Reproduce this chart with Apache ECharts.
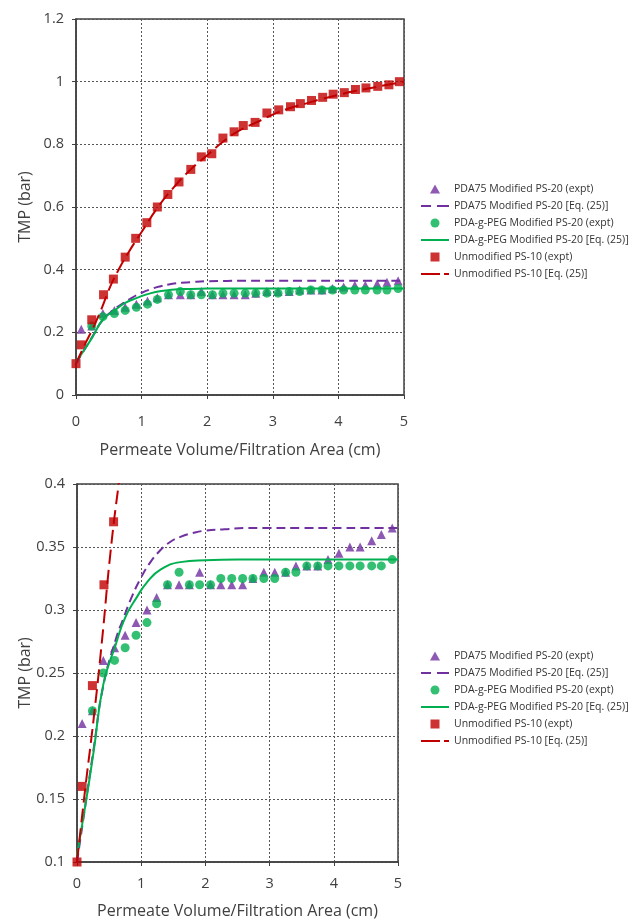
<!DOCTYPE html>
<html>
<head>
<meta charset="utf-8">
<script src="https://cdn.jsdelivr.net/npm/echarts@6/dist/echarts.min.js"></script>
<style>
html,body{margin:0;padding:0;background:#fff;}
#c{width:632px;height:924px;}
</style>
</head>
<body>
<div id="c"></div>
<script>
// ---- data ----
var names = [
  'PDA75 Modified PS-20 (expt)',
  'PDA75 Modified PS-20 [Eq. (25)]',
  'PDA-g-PEG Modified PS-20 (expt)',
  'PDA-g-PEG Modified PS-20 [Eq. (25)]',
  'Unmodified PS-10 (expt)',
  'Unmodified PS-10 [Eq. (25)]'
];
var pdaX = [0.08,0.24,0.41,0.585,0.75,0.92,1.09,1.24,1.41,1.59,1.75,1.91,2.08,2.24,2.41,2.58,2.74,2.91,3.08,3.25,3.41,3.58,3.75,3.91,4.08,4.25,4.41,4.59,4.74,4.91];
var pdaY = [0.21,0.22,0.26,0.27,0.28,0.29,0.30,0.31,0.32,0.32,0.32,0.33,0.32,0.32,0.32,0.32,0.325,0.33,0.33,0.33,0.335,0.335,0.335,0.34,0.345,0.35,0.35,0.355,0.36,0.365];
var pegX = [0.24,0.41,0.585,0.75,0.92,1.09,1.24,1.41,1.59,1.75,1.91,2.08,2.24,2.41,2.58,2.74,2.91,3.08,3.25,3.41,3.58,3.75,3.91,4.08,4.25,4.41,4.59,4.74,4.91];
var pegY = [0.22,0.25,0.26,0.27,0.28,0.29,0.305,0.32,0.33,0.32,0.32,0.32,0.325,0.325,0.325,0.325,0.325,0.325,0.33,0.33,0.335,0.335,0.335,0.335,0.335,0.335,0.335,0.335,0.34];
var unX = [0,0.08,0.24,0.42,0.57,0.75,0.91,1.08,1.24,1.40,1.57,1.75,1.91,2.07,2.24,2.41,2.55,2.73,2.91,3.09,3.27,3.42,3.59,3.76,3.92,4.09,4.26,4.42,4.60,4.77,4.93];
var unY = [0.10,0.16,0.24,0.32,0.37,0.44,0.50,0.55,0.60,0.64,0.68,0.72,0.76,0.77,0.82,0.84,0.86,0.87,0.90,0.91,0.92,0.93,0.94,0.95,0.96,0.965,0.975,0.98,0.985,0.99,1.0];
var pdaFitX = [0,0.13,0.26,0.41,0.6,0.72,0.85,0.98,1.13,1.29,1.45,1.61,1.8,2.0,2.3,2.6,3.0,3.5,4.0,4.5,5.0];
var pdaFitY = [0.1,0.145,0.19,0.24,0.276,0.293,0.31,0.324,0.337,0.347,0.354,0.358,0.361,0.363,0.364,0.365,0.365,0.365,0.365,0.365,0.365];
var pegFitX = [0,0.13,0.26,0.41,0.6,0.75,0.93,1.09,1.3,1.61,2.0,2.5,3.0,3.5,4.0,4.5,5.0];
var pegFitY = [0.105,0.145,0.188,0.241,0.272,0.294,0.31,0.322,0.332,0.338,0.3395,0.34,0.34,0.34,0.34,0.34,0.34];
var unFitX = [0,0.13,0.26,0.39,0.52,0.65,0.8,1.0,1.25,1.5,1.75,2.0,2.25,2.5,2.75,3.0,3.25,3.5,3.75,4.0,4.25,4.5,4.75,5.0];
var unFitY = [0.1,0.159,0.214,0.276,0.345,0.40,0.455,0.52,0.60,0.665,0.72,0.765,0.81,0.845,0.87,0.895,0.915,0.93,0.945,0.958,0.97,0.98,0.99,1.0];
var xTicks = {min:0, max:5, interval:1};
var yTopTicks = {min:0, max:1.2, interval:0.2};
var yBotTicks = {min:0.1, max:0.4, interval:0.05};
var xTitle = 'Permeate Volume/Filtration Area (cm)';
var yTitle = 'TMP (bar)';

function pairs(xs, ys){ return xs.map(function(x,i){return [x, ys[i]];}); }

var PURPLE = '#7030A0', GREEN = '#00B050', RED = '#C00000';
var FONT = 'Open Sans';
var AX = '#404040';

function xAxisCfg(gi, margin, gap){
  return {
    gridIndex: gi, type:'value', min:xTicks.min, max:xTicks.max, interval:xTicks.interval,
    name: xTitle, nameLocation:'middle', nameGap: gap, nameMoveOverlap:false,
    nameTextStyle:{fontFamily:FONT, fontSize:16, color:AX},
    axisLine:{show:true, onZero:false, lineStyle:{color:AX, width:1.5}},
    axisTick:{show:true, inside:false, length:4, lineStyle:{color:AX}},
    axisLabel:{fontFamily:FONT, fontSize:14.5, color:AX, margin:margin},
    splitLine:{show:true, lineStyle:{color:'#555', width:1, type:[2,2]}}
  };
}
function yAxisCfg(gi, t, gap){
  return {
    gridIndex: gi, type:'value', min:t.min, max:t.max, interval:t.interval,
    name: yTitle, nameLocation:'middle', nameGap: gap, nameRotate:90, nameMoveOverlap:false,
    nameTextStyle:{fontFamily:FONT, fontSize:16, color:AX},
    axisLine:{show:true, onZero:false, lineStyle:{color:AX, width:1.5}},
    axisTick:{show:true, inside:false, length:4, lineStyle:{color:AX}},
    axisLabel:{fontFamily:FONT, fontSize:14.5, color:AX, margin:12},
    splitLine:{show:true, lineStyle:{color:'#555', width:1, type:[2,2]}}
  };
}
function seriesFor(gi){
  return [
    {name:names[0], type:'scatter', xAxisIndex:gi, yAxisIndex:gi, symbol:'triangle', symbolSize:9, itemStyle:{color:PURPLE}, data:pairs(pdaX,pdaY)},
    {name:names[1], type:'line', xAxisIndex:gi, yAxisIndex:gi, symbol:'none', smooth:true, lineStyle:{color:PURPLE, width:2, type:[9,5]}, itemStyle:{color:PURPLE}, data:pairs(pdaFitX,pdaFitY)},
    {name:names[2], type:'scatter', xAxisIndex:gi, yAxisIndex:gi, symbol:'circle', symbolSize:9, itemStyle:{color:GREEN}, data:pairs(pegX,pegY)},
    {name:names[3], type:'line', xAxisIndex:gi, yAxisIndex:gi, symbol:'none', smooth:true, lineStyle:{color:GREEN, width:2}, itemStyle:{color:GREEN}, data:pairs(pegFitX,pegFitY)},
    {name:names[4], type:'scatter', xAxisIndex:gi, yAxisIndex:gi, symbol:'rect', symbolSize:9, itemStyle:{color:RED}, data:pairs(unX,unY)},
    {name:names[5], type:'line', xAxisIndex:gi, yAxisIndex:gi, symbol:'none', smooth:true, clip:true, lineStyle:{color:RED, width:2, type:[14,6]}, itemStyle:{color:RED}, data:pairs(unFitX,unFitY)}
  ];
}
var legendIcons = [
  'path://M5,0L10,9L0,9Z',
  'path://M0,0h10v2h-10z M16,0h12v2h-12z',
  'circle',
  'path://M0,0h28v2h-28z',
  'path://M0,0h9v9h-9z',
  'path://M0,0h19v2h-19z M23,0h5v2h-5z'
];
var legendColors = [PURPLE, PURPLE, GREEN, GREEN, RED, RED];
function legendCfg(top){
  return {
    data: names.map(function(n,i){
      return {name:n, icon:legendIcons[i], itemStyle:{color:legendColors[i], borderWidth:0}};
    }),
    orient:'vertical', left:416, top:top,
    itemWidth:28, itemHeight:9, itemGap:5, selectedMode:false,
    textStyle:{fontFamily:FONT, fontSize:10.5, color:'#333', lineHeight:12}
  };
}

var chart = echarts.init(document.getElementById('c'), null, {renderer:'canvas'});
chart.setOption({
  backgroundColor:'#fff',
  animation:false,
  grid:[
    {left:76, top:19, width:328, height:376, show:true, borderColor:AX, borderWidth:1.5, containLabel:false},
    {left:77, top:484, width:321, height:378, show:true, borderColor:AX, borderWidth:1.5, containLabel:false}
  ],
  xAxis:[xAxisCfg(0, 19, 47), xAxisCfg(1, 14, 41)],
  yAxis:[yAxisCfg(0, yTopTicks, 43), yAxisCfg(1, yBotTicks, 44)],
  legend:[legendCfg(178), legendCfg(645)],
  series: seriesFor(0).concat(seriesFor(1))
});
</script>
</body>
</html>
